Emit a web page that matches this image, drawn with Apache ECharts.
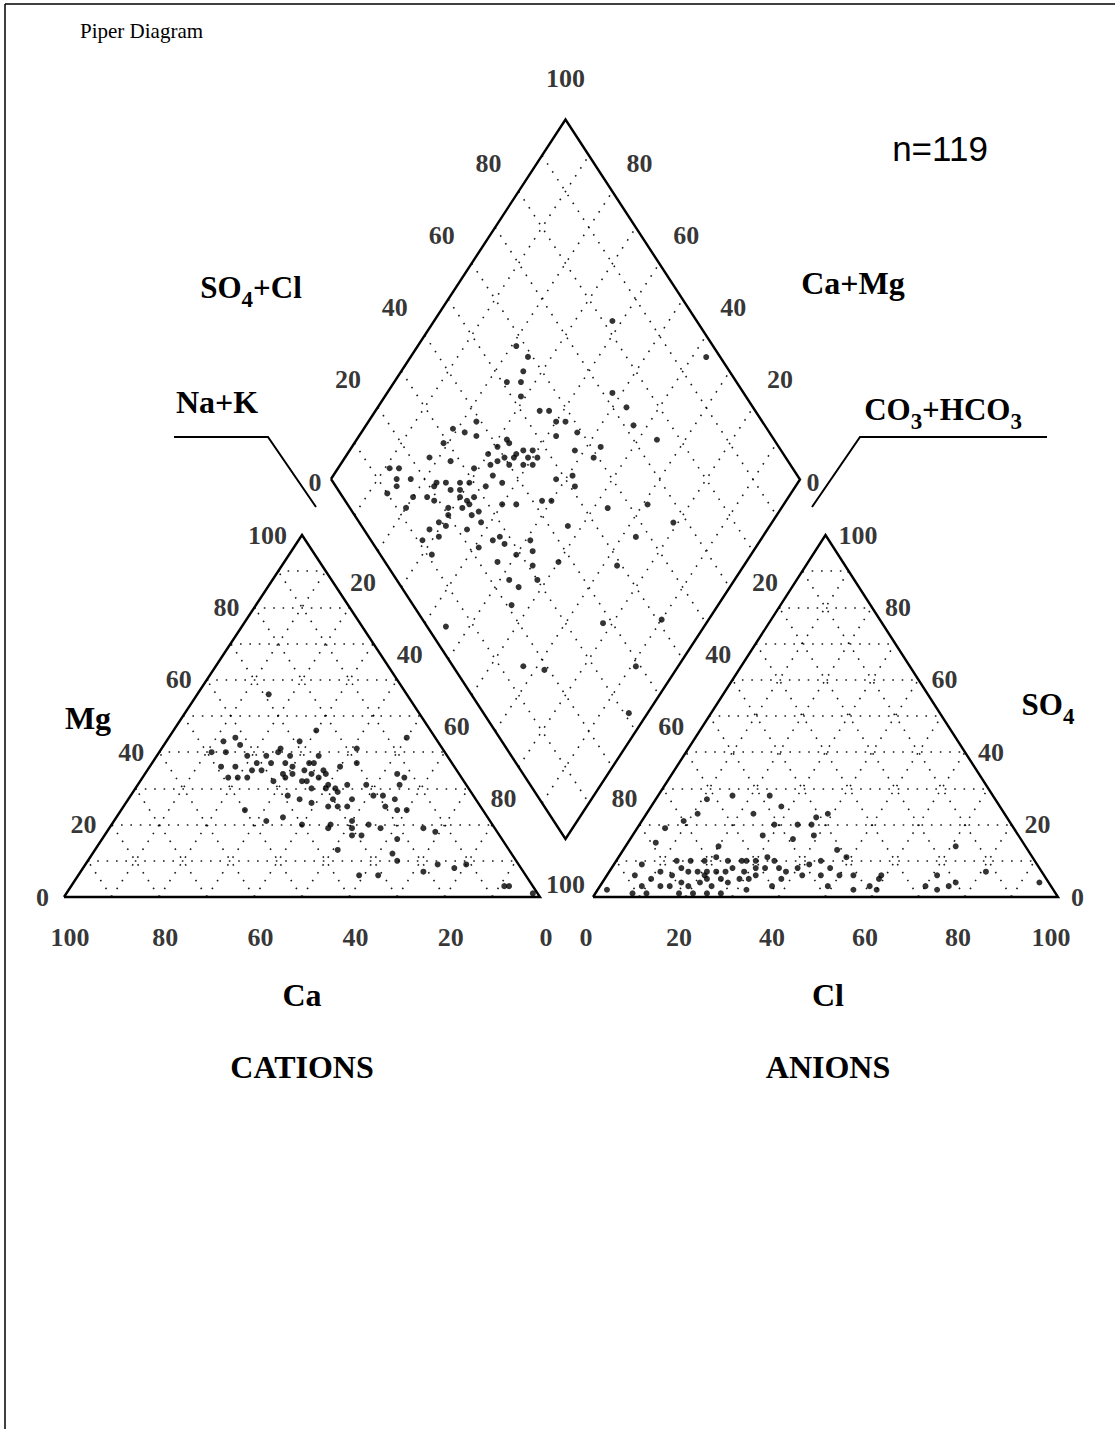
<!DOCTYPE html>
<html><head><meta charset="utf-8">
<script src="https://cdn.jsdelivr.net/npm/echarts@6/dist/echarts.min.js"></script>
<style>html,body{margin:0;padding:0;background:#fff}#c{width:1115px;height:1429px}</style>
</head><body><div id="c"></div>
<script>
// ---------- DATA (percent values) ----------
// Cation triangle samples: [Ca %, Mg %]  (Na+K = 100 - Ca - Mg)
const cationCaMg = [
[24,46],[6,44],[42,44],[45,43],[29,43],[42,42],[18,41],[34,41],[46,40],[42,39],[38,39],[35,40],[33,39],[27,39],
[41,37],[38,37],[35,37],[34,36],[30,37],[29,37],[20,37],[49,36],[46,36],[43,35],[41,35],[37,34],[35,34],[32,35],
[31,34],[28,35],[28,34],[24,36],[13,34],[49,33],[47,33],[45,33],[40,32],[37,33],[34,32],[33,32],[30,33],[12,33],
[29,31],[25,31],[21,31],[14,31],[33,30],[30,30],[28,30],[28,29],[39,28],[30,27],[21,28],[19,28],[17,27],[37,27],
[35,26],[26,27],[32,25],[30,25],[28,25],[20,25],[18,24],[16,24],[50,24],[43,22],[47,21],[40,20],[34,20],[29,21],
[26,20],[15,19],[35,19],[30,19],[24,19],[13,18],[31,17],[29,17],[22,16],[36,13],[25,12],[25,10],[17,9],[14,8],
[11,9],[35,6],[31,6],[21,7],[6,3],[5,3],[29,56],[1,1],[49,40]
];
// Anion triangle samples: [Cl %, SO4 %]  (CO3+HCO3 = 100 - Cl - SO4)
const anionClSO4 = [
[24,28],[16,28],[11,27],[28,25],[23,23],[11,23],[39,23],[9,21],[29,20],[34,20],[37,20],[37,22],[6,19],[28,17],
[35,16],[39,17],[6,15],[20,14],[46,13],[49,11],[6,9],[13,10],[16,10],[19,10],[21,11],[24,10],[27,10],[28,10],
[30,10],[32,11],[34,10],[44,10],[6,6],[10,5],[11,7],[14,6],[15,8],[17,7],[19,7],[21,6],[21,7],[23,7],[25,7],
[26,8],[29,7],[31,8],[33,8],[36,8],[38,7],[40,8],[42,9],[47,8],[50,6],[53,6],[59,5],[9,3],[13,3],[15,3],[17,4],
[19,3],[21,4],[22,5],[24,3],[25,5],[27,4],[29,5],[31,5],[32,6],[38,5],[42,6],[46,6],[21,1],[24,1],[27,1],[32,2],
[37,3],[49,3],[55,2],[58,3],[60,2],[2,2],[18,1],[8,1],[11,1],[71,14],[59,6],[71,6],[70,3],[73,2],[75,3],[76,4],
[81,7],[94,4]
];
// Diamond samples: [Na+K %, SO4+Cl %]
const diamondNaKSO4Cl = [
[21,58],[25,59],[26,56],[24,51],[27,54],[29,52],[35,54],[37,56],[40,56],[42,58],[46,59],[42,54],[48,72],[53,62],
[53,59],[48,56],[51,52],[48,48],[53,51],[19,33],[22,35],[25,37],[23,39],[19,29],[18,24],[23,28],[30,37],[31,40],
[32,43],[33,43],[33,38],[34,40],[36,40],[36,43],[37,45],[39,45],[39,47],[41,47],[41,45],[39,43],[36,42],[32,36],
[34,35],[29,32],[11,14],[13,16],[17,17],[14,14],[15,13],[14,10],[23,21],[23,22],[25,24],[28,27],[30,29],[34,32],
[37,36],[20,15],[20,12],[23,18],[25,19],[27,24],[29,26],[30,25],[32,26],[33,28],[33,26],[32,24],[29,21],[30,20],
[36,27],[35,25],[40,33],[43,36],[48,42],[50,44],[29,17],[28,14],[31,18],[36,22],[38,26],[28,11],[31,15],[43,26],
[44,28],[46,28],[51,34],[57,44],[63,55],[41,22],[47,24],[52,24],[55,25],[56,21],[45,4],[58,30],[53,33],[55,31],
[60,37],[71,64],[79,67],[73,57],[73,49],[78,38],[90,51],[91,39],[67,15],[72,19],[32,11],[50,29],[96,31],[63,97],
[38,82],[53,73],[57,72],[64,75]
];
const tickValues = [0,20,40,60,80,100];
const innerTicks = [20,40,60,80];
const gridSteps = [10,20,30,40,50,60,70,80,90];
const sampleCount = 'n=119';

// ---------- GEOMETRY (plot frames in the chart's value space) ----------
const CAT = {L:[64,897], T:[302,535], R:[540,897]};
const ANI = {L:[593,897], T:[825.5,535], R:[1058,897]};
const DIA = {L:[331,479], T:[565.5,119.5], B:[565.5,839]};

function bary(tri, wL, wT, wR){
  return [(wL*tri.L[0]+wT*tri.T[0]+wR*tri.R[0])/100, (wL*tri.L[1]+wT*tri.T[1]+wR*tri.R[1])/100];
}
function catXY(ca, mg){ return bary(CAT, ca, mg, 100-ca-mg); }
function aniXY(cl, so4){ return bary(ANI, 100-cl-so4, so4, cl); }
function diaXY(nak, s){
  const L=DIA.L,B=DIA.B,T=DIA.T;
  return [L[0]+nak/100*(B[0]-L[0])+s/100*(T[0]-L[0]), L[1]+nak/100*(B[1]-L[1])+s/100*(T[1]-L[1])];
}

const seg = (a,b)=>({coords:[a,b]});
const catGrid=[], aniGrid=[], diaGrid=[];
gridSteps.forEach(v=>{
  catGrid.push(seg(catXY(100-v,v),catXY(0,v)), seg(catXY(v,0),catXY(v,100-v)), seg(catXY(100-v,0),catXY(0,100-v)));
  aniGrid.push(seg(aniXY(0,v),aniXY(100-v,v)), seg(aniXY(v,0),aniXY(v,100-v)), seg(aniXY(100-v,0),aniXY(0,100-v)));
  diaGrid.push(seg(diaXY(v,0),diaXY(v,100)), seg(diaXY(0,v),diaXY(100,v)));
});
const outlines = [
  {coords:[catXY(100,0),catXY(0,100),catXY(0,0),catXY(100,0)]},
  {coords:[aniXY(0,0),aniXY(0,100),aniXY(100,0),aniXY(0,0)]},
  {coords:[diaXY(0,0),diaXY(0,100),diaXY(100,100),diaXY(100,0),diaXY(0,0)]}
];

const off=(p,dx,dy)=>[p[0]+dx,p[1]+dy];
const tickItems=[];
function tick(p,text,align){ tickItems.push({value:p,label:{formatter:String(text),align:align||'center'}}); }
tickValues.forEach(v=>{
  tick(off(catXY(100-v,v),-15,0),v,'right');  // Mg
  tick(off(catXY(v,0),6,40),v);                // Ca
  tick(off(aniXY(v,0),-7,40),v);               // Cl
  tick(off(aniXY(100-v,v),13,0),v,'left');     // SO4
});
innerTicks.forEach(v=>{
  tick(off(diaXY(0,v),-30,-28),v);       // SO4+Cl
  tick(off(diaXY(100-v,100),27,-28),v);  // Ca+Mg
  tick(off(diaXY(v,0),-15,31),v);        // Na+K
  tick(off(diaXY(100,100-v),12,31),v);   // CO3+HCO3
});
tick(off(diaXY(0,0),-16,3),0);
tick(off(diaXY(100,100),13,3),0);
tick(off(diaXY(0,100),0,-41),100);
tick(off(diaXY(100,0),0,45),100);

const SERIF='"Liberation Serif","Times New Roman",serif';
const richSub = {
  m:{fontFamily:SERIF,fontWeight:'bold',fontSize:31,lineHeight:31,verticalAlign:'top',fill:'#000'},
  s:{fontFamily:SERIF,fontWeight:'bold',fontSize:23,lineHeight:23,padding:[16,0,0,0],verticalAlign:'top',fill:'#000'}
};
function title(x,y,text,rich){
  return {type:'text',x:x,y:y,z:10,style:{text:text,rich:rich?richSub:undefined,fill:'#000',
    font:'bold 32px '+SERIF,textAlign:'center',textVerticalAlign:'middle'}};
}

const gridLine = {color:'#000',width:1.6,type:[1.6,7.8],opacity:0.9};
const dotStyle = {color:'#000'};

const chart = echarts.init(document.getElementById('c'), null, {renderer:'svg'});
chart.setOption({
  animation:false,
  backgroundColor:'#fff',
  grid:{left:0,right:0,top:0,bottom:0},
  xAxis:{type:'value',min:0,max:1115,show:false},
  yAxis:{type:'value',min:0,max:1429,inverse:true,show:false},
  series:[
    {type:'lines',coordinateSystem:'cartesian2d',silent:true,data:catGrid,lineStyle:gridLine,z:1},
    {type:'lines',coordinateSystem:'cartesian2d',silent:true,data:aniGrid,lineStyle:gridLine,z:1},
    {type:'lines',coordinateSystem:'cartesian2d',silent:true,data:diaGrid,lineStyle:gridLine,z:1},
    {type:'lines',coordinateSystem:'cartesian2d',polyline:true,silent:true,data:outlines,
      lineStyle:{color:'#000',width:2.4,opacity:1},z:3},
    {type:'scatter',symbolSize:6,itemStyle:dotStyle,data:cationCaMg.map(d=>catXY(d[0],d[1])),z:4},
    {type:'scatter',symbolSize:6,itemStyle:dotStyle,data:anionClSO4.map(d=>aniXY(d[0],d[1])),z:4},
    {type:'scatter',symbolSize:6,itemStyle:dotStyle,data:diamondNaKSO4Cl.map(d=>diaXY(d[0],d[1])),z:4},
    {type:'scatter',symbolSize:1,silent:true,itemStyle:{color:'transparent'},data:tickItems,z:5,
      label:{show:true,position:'inside',verticalAlign:'middle',color:'#000',fontFamily:SERIF,fontWeight:'bold',fontSize:26}}
  ],
  graphic:[
    {type:'line',shape:{x1:5,y1:4,x2:1115,y2:4},style:{stroke:'#000',lineWidth:1.5}},
    {type:'line',shape:{x1:5,y1:4,x2:5,y2:1429},style:{stroke:'#000',lineWidth:1.5}},
    {type:'polyline',shape:{points:[[174,437],[268,437],[316,507]]},style:{stroke:'#000',lineWidth:2,fill:null}},
    {type:'polyline',shape:{points:[[812,507],[860,437],[1047,437]]},style:{stroke:'#000',lineWidth:2,fill:null}},
    {type:'text',x:80,y:31,style:{text:'Piper Diagram',fill:'#000',font:'21px '+SERIF,textAlign:'left',textVerticalAlign:'middle'}},
    {type:'text',x:940,y:148,style:{text:sampleCount,fill:'#000',font:'35px "Liberation Sans",Arial,sans-serif',textAlign:'center',textVerticalAlign:'middle'}},
    title(251,287,'{m|SO}{s|4}{m|+Cl}',true),
    title(853,283,'Ca+Mg'),
    title(217,402,'Na+K'),
    title(943,409,'{m|CO}{s|3}{m|+HCO}{s|3}',true),
    title(88,718,'Mg'),
    title(1048,704,'{m|SO}{s|4}',true),
    title(302,995,'Ca'),
    title(828,995,'Cl'),
    title(302,1067,'CATIONS'),
    title(828,1067,'ANIONS')
  ]
});
</script></body></html>
